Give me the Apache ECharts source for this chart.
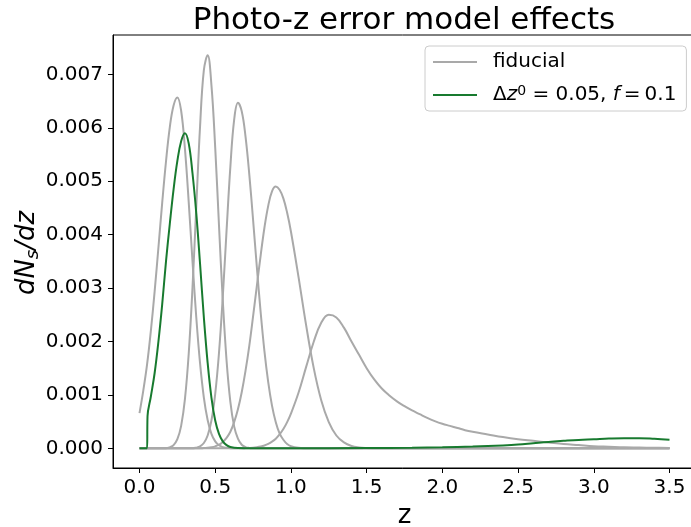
<!DOCTYPE html>
<html>
<head>
<meta charset="utf-8">
<script src="https://cdn.jsdelivr.net/npm/echarts@6/dist/echarts.min.js"></script>
<style>
html,body{margin:0;padding:0;background:#fff;}
#chart{width:691px;height:527px;}
</style>
</head>
<body>
<div id="chart"></div>
<script>
// ---- data ----
// z grid: 0..1.0 step 0.025 (41), 1.05..2.2 step 0.05 (24), 2.3..3.5 step 0.1 (13)
const zGrid = [0, 0.025, 0.05, 0.075, 0.1, 0.125, 0.15, 0.175, 0.2, 0.225, 0.25, 0.275, 0.3, 0.325, 0.35, 0.375, 0.4, 0.425, 0.45, 0.475, 0.5, 0.525, 0.55, 0.575, 0.6, 0.625, 0.65, 0.675, 0.7, 0.725, 0.75, 0.775, 0.8, 0.825, 0.85, 0.875, 0.9, 0.925, 0.95, 0.975, 1.0,
  1.05, 1.1, 1.15, 1.2, 1.25, 1.3, 1.35, 1.4, 1.45, 1.5, 1.55, 1.6, 1.65, 1.7, 1.75, 1.8, 1.85, 1.9, 1.95, 2.0, 2.05, 2.1, 2.15, 2.2,
  2.3, 2.4, 2.5, 2.6, 2.7, 2.8, 2.9, 3.0, 3.1, 3.2, 3.3, 3.4, 3.5];

const bin1 = [0.00066, 0.00108, 0.00157, 0.00220, 0.00294, 0.00376, 0.00460, 0.00537, 0.00601, 0.00642, 0.00657, 0.00632, 0.00561, 0.00461, 0.00350, 0.00245, 0.00159, 0.00095, 0.00053, 0.00027, 0.00013, 0.000056, 0.000022, 0.000008, 0.000003, 0, 0, 0, 0, 0, 0, 0, 0, 0, 0, 0, 0, 0, 0, 0, 0,
  0, 0, 0, 0, 0, 0, 0, 0, 0, 0, 0, 0, 0, 0, 0, 0, 0, 0, 0, 0, 0, 0, 0, 0,
  0, 0, 0, 0, 0, 0, 0, 0, 0, 0, 0, 0, 0];

const bin2 = [0, 0, 0, 0, 0, 0, 0, 0, 0.000019, 0.00006, 0.00017, 0.00042, 0.00092, 0.00177, 0.00301, 0.00453, 0.00603, 0.00708, 0.00736, 0.00680, 0.00563, 0.00417, 0.00277, 0.00164, 0.00087, 0.00041, 0.00018, 0.000067, 0.000023, 0.000007, 0.000002, 0, 0, 0, 0, 0, 0, 0, 0, 0, 0,
  0, 0, 0, 0, 0, 0, 0, 0, 0, 0, 0, 0, 0, 0, 0, 0, 0, 0, 0, 0, 0, 0, 0, 0,
  0, 0, 0, 0, 0, 0, 0, 0, 0, 0, 0, 0, 0];

const bin3 = [0, 0, 0, 0, 0, 0, 0, 0, 0, 0, 0, 0, 0, 0, 0, 0.000013, 0.000038, 0.00010, 0.00024, 0.00052, 0.00102, 0.00179, 0.00284, 0.00408, 0.00527, 0.00615, 0.00647, 0.00631, 0.00584, 0.00513, 0.00428, 0.00339, 0.00255, 0.00182, 0.00124, 0.00080, 0.00049, 0.00028, 0.00016, 0.00008, 0.00004,
  0.000009, 0.000002, 0, 0, 0, 0, 0, 0, 0, 0, 0, 0, 0, 0, 0, 0, 0, 0, 0, 0, 0, 0, 0, 0,
  0, 0, 0, 0, 0, 0, 0, 0, 0, 0, 0, 0, 0];

const bin4 = [0, 0, 0, 0, 0, 0, 0, 0, 0, 0, 0, 0, 0, 0, 0, 0, 0, 0.000005, 0.00001, 0.00002, 0.000037, 0.000067, 0.00012, 0.000195, 0.00031, 0.00049, 0.00073, 0.00105, 0.00145, 0.00192, 0.00247, 0.00304, 0.00361, 0.00413, 0.00454, 0.00481, 0.00490, 0.00484, 0.00468, 0.00441, 0.00406,
  0.00321, 0.00231, 0.00151, 0.00090, 0.00049, 0.00024, 0.00011, 0.000044, 0.000017, 0.000006, 0.000002, 0, 0, 0, 0, 0, 0, 0, 0, 0, 0, 0, 0, 0,
  0, 0, 0, 0, 0, 0, 0, 0, 0, 0, 0, 0, 0];

const bin5 = [0, 0, 0, 0, 0, 0, 0, 0, 0, 0, 0, 0, 0, 0, 0, 0, 0, 0, 0, 0, 0, 0, 0, 0, 0, 0, 0, 0, 0.000004, 0.000007, 0.000012, 0.000021, 0.000034, 0.000053, 0.000082, 0.000124, 0.00018, 0.00026, 0.00036, 0.00049, 0.00065,
  0.00104, 0.00152, 0.00199, 0.00235, 0.00250, 0.00245, 0.00226, 0.00200, 0.00175, 0.00150, 0.00129, 0.00112, 0.00099, 0.00088, 0.00079, 0.00071, 0.00064, 0.00057, 0.00051, 0.00046, 0.00042, 0.00038, 0.00034, 0.00031,
  0.00026, 0.00021, 0.00017, 0.00014, 0.00011, 0.00008, 0.00006, 0.00004, 0.00003, 0.00002, 0.000015, 0.00001, 0.000008];

const greenZ = [0, 0.05, 0.053, 0.075, 0.1, 0.125, 0.15, 0.175, 0.2, 0.225, 0.25, 0.275, 0.3, 0.325, 0.35, 0.375, 0.4, 0.425, 0.45, 0.475, 0.5, 0.525, 0.55, 0.575, 0.6, 0.65, 0.7, 1.0, 1.5, 1.8, 2.0, 2.2, 2.4, 2.5, 2.6, 2.7, 2.8, 2.9, 3.0, 3.1, 3.2, 3.3, 3.4, 3.5];
const greenN = [0, 0, 0.0006, 0.00097, 0.00141, 0.00200, 0.00270, 0.00350, 0.00420, 0.00485, 0.00538, 0.00575, 0.00590, 0.00571, 0.00515, 0.00440, 0.00345, 0.00245, 0.00160, 0.00095, 0.00052, 0.00027, 0.00013, 0.00006, 0.000025, 0.000004, 0.000002, 0.000001, 0.000004, 0.00001, 0.00002, 0.000035, 0.000055, 0.00007, 0.000095, 0.00012, 0.00014, 0.000158, 0.00017, 0.000183, 0.00019, 0.00019, 0.000178, 0.00016];

const xTicks = [0, 0.5, 1.0, 1.5, 2.0, 2.5, 3.0, 3.5];
const yTicks = [0, 0.001, 0.002, 0.003, 0.004, 0.005, 0.006, 0.007];

const fiducialBins = [bin1, bin2, bin3, bin4, bin5];
const greenName = 'Δz0 = 0.05, f = 0.1';

// ---- chart ----
const FONT = 'DejaVu Sans';
const GRAY = '#a9a9a9';
const GREEN = '#187a2f';

const pair = (xs, ys) => xs.map((x, i) => [x, ys[i]]);

const series = fiducialBins.map(b => ({
  name: 'fiducial',
  type: 'line',
  data: pair(zGrid, b),
  showSymbol: false,
  smooth: 0.4,
  color: GRAY,
  lineStyle: { color: GRAY, width: 2 },
  emphasis: { disabled: true },
  animation: false
}));
series.push({
  name: greenName,
  type: 'line',
  data: pair(greenZ, greenN),
  showSymbol: false,
  smooth: 0.4,
  color: GREEN,
  lineStyle: { color: GREEN, width: 2 },
  emphasis: { disabled: true },
  animation: false
});

const chart = echarts.init(document.getElementById('chart'), null, { renderer: 'canvas' });
chart.setOption({
  animation: false,
  backgroundColor: '#fff',
  title: {
    text: 'Photo-z error model effects',
    left: 399,
    top: 0,
    textAlign: 'center',
    textStyle: { fontFamily: FONT, fontSize: 31, fontWeight: 'normal', color: '#000' }
  },
  grid: {
    left: 113, top: 35, width: 583, height: 433,
    outerBoundsMode: 'none',
    containLabel: false,
    show: true, borderColor: '#000', borderWidth: 1, backgroundColor: 'transparent'
  },
  graphic: [{
    type: 'text',
    x: 27, y: 253,
    rotation: Math.PI / 2,
    silent: true,
    style: {
      text: '{i|dN}{sub|s}{i|/dz}',
      align: 'center',
      verticalAlign: 'middle',
      fill: '#000',
      font: 'italic 26px "DejaVu Sans"',
      rich: {
        i: { fontFamily: FONT, fontSize: 26, fontStyle: 'italic', fill: '#000', lineHeight: 30 },
        sub: { fontFamily: FONT, fontSize: 18, fontStyle: 'italic', fill: '#000', lineHeight: 12, verticalAlign: 'bottom' }
      }
    }
  }],
  legend: {
    data: ['fiducial', greenName],
    orient: 'vertical',
    left: 425, top: 46,
    padding: [6, 10, 6, 8],
    itemGap: 12,
    itemWidth: 44, itemHeight: 2,
    icon: 'rect',
    selectedMode: false,
    backgroundColor: 'rgba(255,255,255,0.8)',
    borderColor: '#cccccc', borderWidth: 1, borderRadius: 4,
    formatter: name => name === 'fiducial'
      ? '{n|fiducial}'
      : '{n|Δ}{i|z}{sup|0}{n| = 0.05, }{i|f}{n|\u2009=\u20090.1}',
    textStyle: {
      fontFamily: FONT, fontSize: 20, color: '#000',
      padding: [0, 0, 0, 11],
      rich: {
        n: { fontFamily: FONT, fontSize: 20, color: '#000', lineHeight: 22 },
        i: { fontFamily: FONT, fontSize: 20, fontStyle: 'italic', color: '#000', lineHeight: 22 },
        sup: { fontFamily: FONT, fontSize: 14, color: '#000', lineHeight: 12, verticalAlign: 'top' }
      }
    }
  },
  xAxis: {
    type: 'value',
    min: -0.175, max: 3.675,
    name: 'z',
    nameLocation: 'middle',
    nameGap: 30,
    nameTextStyle: { fontFamily: FONT, fontSize: 26, color: '#000' },
    axisLine: { show: true, onZero: false, lineStyle: { color: '#000', width: 1 } },
    axisTick: { show: true, inside: false, length: 5, customValues: xTicks, lineStyle: { color: '#000', width: 1 } },
    axisLabel: {
      customValues: xTicks, margin: 10,
      fontFamily: FONT, fontSize: 20, color: '#000',
      formatter: v => v.toFixed(1)
    },
    splitLine: { show: false }
  },
  yAxis: {
    type: 'value',
    min: -0.0003685, max: 0.0077385,
    axisLine: { show: true, onZero: false, lineStyle: { color: '#000', width: 1 } },
    axisTick: { show: true, inside: false, length: 5, customValues: yTicks, lineStyle: { color: '#000', width: 1 } },
    axisLabel: {
      customValues: yTicks, margin: 10,
      fontFamily: FONT, fontSize: 20, color: '#000',
      formatter: v => v.toFixed(3)
    },
    splitLine: { show: false }
  },
  series: series
});
</script>
</body>
</html>
